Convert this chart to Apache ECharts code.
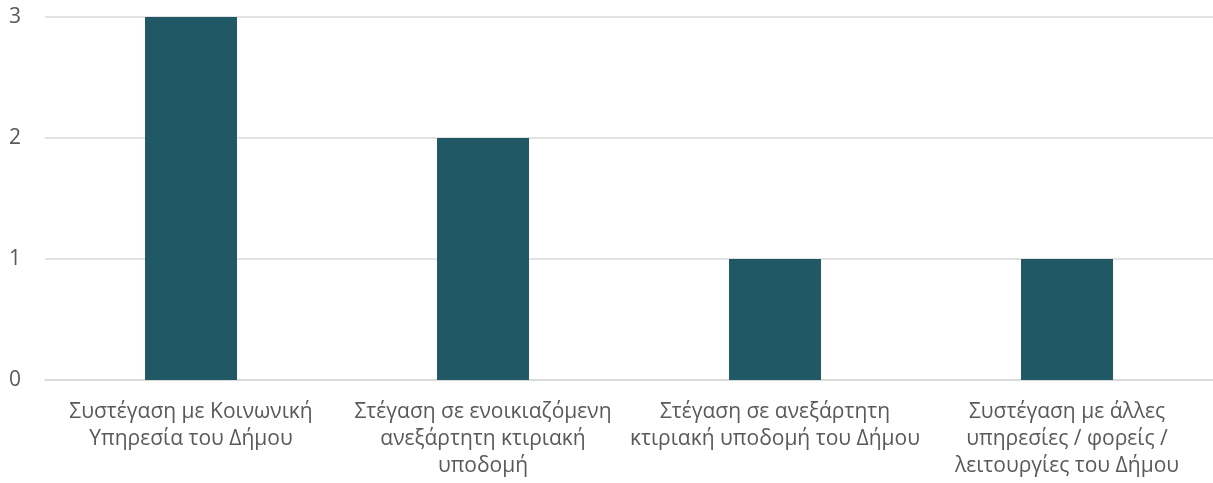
<!DOCTYPE html>
<html>
<head>
<meta charset="utf-8">
<script src="https://cdn.jsdelivr.net/npm/echarts@6/dist/echarts.min.js"></script>
<style>
html,body{margin:0;padding:0;background:#fff;}
#container{width:1213px;height:483px;}
</style>
</head>
<body>
<div id="container"></div>
<script>
// κατηγορίες και τιμές
var categories = [
  "Συστέγαση με Κοινωνική\nΥπηρεσία του Δήμου",
  "Στέγαση σε ενοικιαζόμενη\nανεξάρτητη κτιριακή\nυποδομή",
  "Στέγαση σε ανεξάρτητη\nκτιριακή υποδομή του Δήμου",
  "Συστέγαση με άλλες\nυπηρεσίες / φορείς /\nλειτουργίες του Δήμου"
];
var values = [3, 2, 1, 1];
var yTicks = [0, 1, 2, 3];

var myChart = echarts.init(document.getElementById("container"));
var option = {
  backgroundColor: '#ffffff',
  animation: false,
  grid: {left: 45, width: 1172, top: 17, bottom: 103, containLabel: false},
  xAxis: {
    type: 'category',
    data: categories,
    axisLine: {lineStyle: {color: '#d9d9d9', width: 1.5}},
    axisTick: {show: false},
    axisLabel: {
      color: '#595959',
      fontFamily: 'Open Sans',
      fontSize: 21,
      lineHeight: 27,
      margin: 19,
      interval: 0
    }
  },
  yAxis: {
    type: 'value',
    min: yTicks[0],
    max: yTicks[yTicks.length - 1],
    interval: 1,
    axisLine: {show: false},
    axisTick: {show: false},
    splitLine: {lineStyle: {color: '#d9d9d9', width: 1.5}},
    axisLabel: {
      color: '#595959',
      fontFamily: 'Open Sans',
      fontSize: 21,
      margin: 24
    }
  },
  series: [{
    type: 'bar',
    data: values,
    barWidth: '31.5%',
    itemStyle: {color: '#215866'}
  }]
};
myChart.setOption(option, true);
</script>
</body>
</html>
